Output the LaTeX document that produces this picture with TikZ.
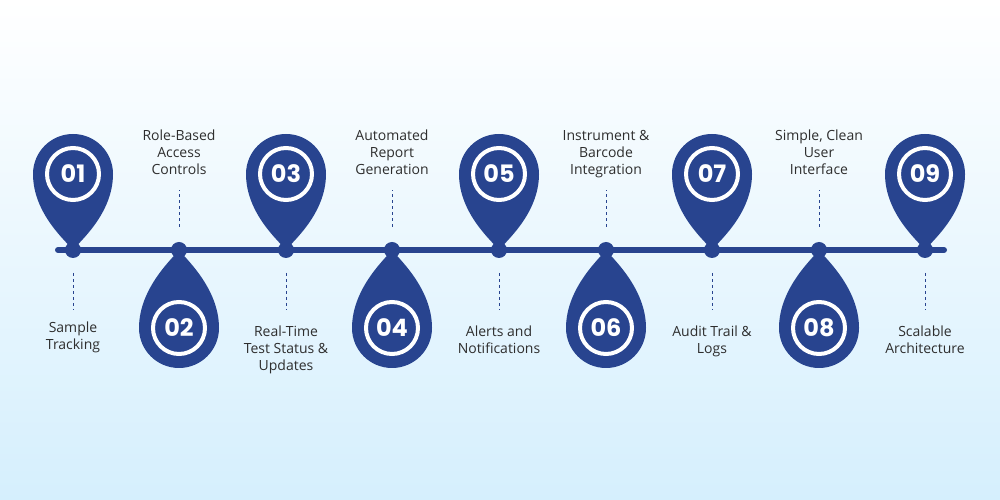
\documentclass[tikz,border=0pt]{standalone}
\usepackage{fontspec}
\setmainfont{Open Sans}
\newfontfamily\numfont{Poppins}
\usepackage{xcolor}
\usepackage{tikz}
\definecolor{pinBlue}{HTML}{28448F}
\definecolor{labelGray}{HTML}{2E2E2E}
\definecolor{bgBlue}{HTML}{D5EFFD}
\tikzset{
    pinbody/.style={fill=pinBlue},
    numring/.style={circle, fill=pinBlue, draw=white, line width=4pt, minimum size=52pt,
        inner sep=0pt, text=white, font=\numfont\bfseries\fontsize{24}{24}\selectfont},
    dotnode/.style={circle, fill=pinBlue, minimum size=16pt, inner sep=0pt},
    steplabel/.style={align=center, inner sep=0pt, text=labelGray,
        font=\fontsize{14}{17}\selectfont},
    dashline/.style={pinBlue, line width=0.9pt, dash pattern=on 3pt off 3pt},
}

\begin{document}
\begin{tikzpicture}[x=1pt, y=1pt]
    \useasboundingbox (0,0) rectangle (1000,500);
    \shade[top color=white, bottom color=bgBlue] (0,0) rectangle (1000,500);

    % timeline
    \coordinate (tstart) at (58,250);
    \coordinate (tend) at (944,250);
    \draw[pinBlue, line width=6pt, line cap=round] (tstart) -- (tend);

    % pins above the line
    \foreach \x/\n in {73/01, 286/03, 499/05, 712/07, 925/09} {
        \fill[pinbody] (\x,250) .. controls (\x-6,258) and (\x-40,286) .. (\x-40,326)
            arc[start angle=180, end angle=0, radius=40]
            .. controls (\x+40,286) and (\x+6,258) .. cycle;
        \node[numring] (n\n) at (\x,326) {\n};
        \node[dotnode] (d\n) at (\x,250) {};
        \draw[dashline] ([yshift=-23pt]d\n.center) -- ([yshift=-60pt]d\n.center);
    }

    % pins below the line
    \foreach \x/\n in {179/02, 392/04, 606/06, 819/08} {
        \fill[pinbody] (\x,250) .. controls (\x-6,242) and (\x-40,212) .. (\x-40,172)
            arc[start angle=180, end angle=360, radius=40]
            .. controls (\x+40,212) and (\x+6,242) .. cycle;
        \node[numring] (n\n) at (\x,172) {\n};
        \node[dotnode] (d\n) at (\x,250) {};
        \draw[dashline] ([yshift=23pt]d\n.center) -- ([yshift=60pt]d\n.center);
    }

    % labels
    \foreach \x/\n/\y/\txt in {179/02/370/{Role-Based\\Access\\Controls},
            392/04/370/{Automated\\Report\\Generation},
            606/06/370/{Instrument \&\\Barcode\\Integration},
            819/08/370/{Simple, Clean\\User\\Interface},
            73/01/178/{Sample\\Tracking},
            286/03/174/{Real-Time\\Test Status \&\\Updates},
            499/05/174/{Alerts and\\Notifications},
            712/07/174/{Audit Trail \&\\Logs},
            925/09/174/{Scalable\\Architecture}}
        \node[steplabel, anchor=north] (l\n) at (\x,\y) {\txt};
\end{tikzpicture}
\end{document}
